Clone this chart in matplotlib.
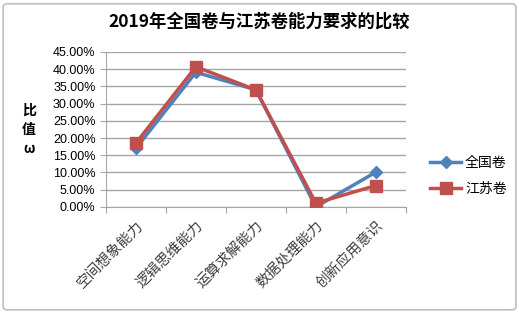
import matplotlib
matplotlib.use('Agg')
import matplotlib.pyplot as plt
from matplotlib.patches import FancyBboxPatch
from matplotlib.ticker import FuncFormatter, FixedLocator

plt.rcParams['font.family'] = ['Noto Sans CJK SC', 'DejaVu Sans']

categories = ['空间想象能力', '逻辑思维能力', '运算求解能力', '数据处理能力', '创新应用意识']
national = [17.0, 39.1, 34.0, 0.0, 10.1]
jiangsu = [18.5, 40.7, 34.0, 1.1, 6.2]
yticks = [0, 5, 10, 15, 20, 25, 30, 35, 40, 45]

fig = plt.figure(figsize=(5.19, 3.13), dpi=100)
ax = fig.add_axes([0.204, 0.339, 0.578, 0.495])

x = list(range(len(categories)))
ax.plot(x, national, color='#4F81BD', lw=2.5, marker='D', ms=6,
        label='全国卷', zorder=3)
ax.plot(x, jiangsu, color='#C0504D', lw=2.5, marker='s', ms=9,
        label='江苏卷', zorder=4)

ax.set_xlim(-0.5, 4.5)
ax.set_ylim(0, 45)
ax.yaxis.set_major_locator(FixedLocator(yticks))
ax.yaxis.set_major_formatter(FuncFormatter(lambda v, p: '%.2f%%' % v))
for lab in ax.get_yticklabels():
    lab.set_fontfamily('Liberation Sans')
    lab.set_fontsize(9)
ax.grid(axis='y', color='#A6A6A6', lw=1)
ax.set_axisbelow(True)

ax.set_xticks([i - 0.5 for i in range(len(categories) + 1)])
ax.set_xticklabels([])
ax.set_xticks(x, minor=True)
ax.set_xticklabels(categories, minor=True, rotation=45, ha='right',
                   rotation_mode='anchor', fontsize=10.5, color='#404040')
ax.tick_params(axis='x', which='minor', length=0, pad=8)
ax.tick_params(axis='both', which='major', color='#A6A6A6', length=4)

for s in ['top', 'right']:
    ax.spines[s].set_visible(False)
for s in ['left', 'bottom']:
    ax.spines[s].set_color('#A6A6A6')

fig.text(0.5, 0.93, '2019年全国卷与江苏卷能力要求的比较', ha='center', va='center',
         fontsize=12.5, fontweight='bold')
fig.text(0.056, 0.585, '比\n值\nω', ha='center', va='center', fontsize=10,
         fontweight='bold', linespacing=1.5)

ax.legend(loc='center left', bbox_to_anchor=(1.04, 0.2), frameon=False,
          fontsize=10, handlelength=2.2, handletextpad=0.3, labelspacing=0.9)

fig.patches.append(FancyBboxPatch((0.006, 0.01), 0.988, 0.978,
                                  boxstyle='round,pad=0,rounding_size=0.01',
                                  transform=fig.transFigure, fill=False,
                                  ec='#BFBFBF', lw=1.2))

fig.savefig('out.png', dpi=100)
